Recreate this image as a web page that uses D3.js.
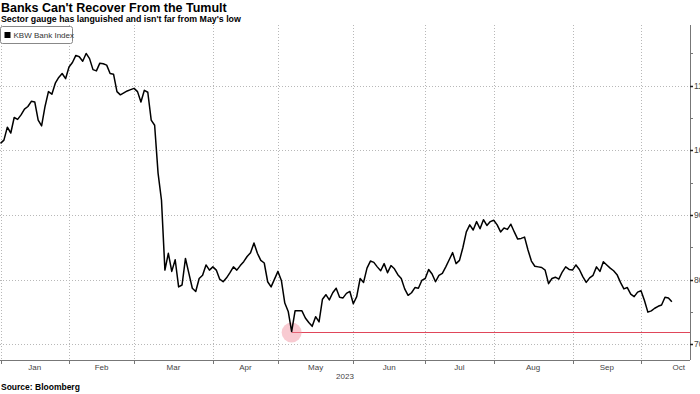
<!DOCTYPE html>
<html lang="en">
<head>
  <meta charset="UTF-8">
  <title>Banks Can't Recover From the Tumult</title>
  <script src="https://d3js.org/d3.v7.min.js"></script>
  <style>
    body { margin: 0; background: #fff; }
    text { font-family: "Liberation Sans", Arial, sans-serif; }
  </style>
</head>
<body>
  <script>
    // KBW Bank Index, daily closes in 2023 (one value per trading day from Jan 3)
    var kbwValues = [
      101.1, 101.6, 103.6, 102.7, 105.1, 104.8, 105.5, 106.4, 106.8, 107.6,
      107.5, 104.7, 103.8, 106.8, 109.1, 108.7, 110.4, 111.3, 111.9, 111.1,
      112.9, 113.6, 114.7, 114.5, 113.8, 115.0, 114.2, 112.5, 112.3, 113.5,
      113.4, 113.2, 111.9, 111.8, 109.1, 108.6, 108.9, 109.2, 109.4, 109.6,
      109.1, 107.5, 109.3, 109.0, 104.7, 103.9, 96.5, 92.3, 81.5, 84.1,
      81.3, 83.1, 78.9, 79.2, 83.3, 81.0, 78.7, 78.2, 80.2, 80.7,
      82.3, 81.5, 82.0, 81.5, 80.1, 79.7, 80.3, 81.1, 82.0, 81.5,
      82.2, 82.8, 83.6, 84.2, 85.7, 84.1, 83.0, 82.6, 79.7, 78.9,
      80.1, 81.3, 79.9, 76.4, 75.1, 72.0, 75.2, 75.2, 75.2, 74.1,
      73.4, 72.8, 74.3, 73.5, 77.0, 77.7, 76.9, 78.0, 78.7, 77.3,
      77.2, 77.9, 78.2, 76.3, 77.4, 80.2, 79.6, 81.8, 82.9, 82.7,
      82.0, 81.4, 82.5, 81.1, 82.2, 81.7, 80.8, 80.2, 78.6, 77.6,
      78.0, 78.8, 78.7, 79.9, 80.2, 81.6, 80.9, 79.7, 80.7, 81.0,
      82.0, 83.1, 84.2, 82.5, 83.0, 85.0, 87.4, 88.5, 87.7, 89.0,
      87.9, 89.3, 88.4, 89.0, 89.2, 88.5, 87.4, 88.0, 87.8, 88.6,
      87.4, 86.3, 86.4, 86.6, 84.6, 82.9, 82.1, 82.0, 81.9, 81.5,
      79.4, 80.2, 80.4, 80.1, 81.2, 82.0, 81.6, 81.5, 82.3, 81.6,
      80.5, 79.6, 80.3, 80.7, 82.0, 81.3, 82.8, 82.3, 81.8, 81.4,
      80.8, 79.6, 78.6, 78.8, 77.8, 77.4, 78.1, 78.3, 76.8, 75.0,
      75.2, 75.6, 75.9, 76.1, 77.3, 77.2, 76.6
    ];

    // months on the axis and their number of trading days
    var months = ["Jan", "Feb", "Mar", "Apr", "May", "Jun", "Jul", "Aug", "Sep", "Oct"];
    var tradingDays = [20, 19, 23, 19, 22, 21, 20, 23, 20, 22];

    var yTicks = [70, 80, 90, 100, 110];
    var yMinorTicks = [75, 85, 95, 105, 115];

    var width = 700, height = 394;
    var plotLeft = 0, plotRight = 690, plotTop = 25, plotBottom = 360;

    var svg = d3.select("body")
                .append("svg")
                .attr("width", width)
                .attr("height", height);

    // month start index (trading day number)
    var monthStart = [];
    var acc = 0;
    tradingDays.forEach(function(n) { monthStart.push(acc); acc += n; });

    var x = d3.scaleLinear()
              .domain([0, 201.3])
              .range([plotLeft + 0.5, plotRight]);

    var y = d3.scaleLinear()
              .domain([67.6, 119.4])
              .range([plotBottom, plotTop]);

    // horizontal gridlines
    svg.selectAll(".hgrid")
       .data(yTicks)
       .enter()
       .append("line")
       .attr("x1", plotLeft)
       .attr("x2", plotRight)
       .attr("y1", d => Math.round(y(d)) + 0.5)
       .attr("y2", d => Math.round(y(d)) + 0.5)
       .style("stroke", "#b8b8b8")
       .style("stroke-dasharray", "1 2");

    // vertical gridlines at month starts
    svg.selectAll(".vgrid")
       .data(monthStart)
       .enter()
       .append("line")
       .attr("x1", d => Math.round(x(d)) + 0.5)
       .attr("x2", d => Math.round(x(d)) + 0.5)
       .attr("y1", plotTop)
       .attr("y2", plotBottom)
       .style("stroke", "#b8b8b8")
       .style("stroke-dasharray", "1 2");

    // x axis line, ticks, labels
    svg.append("line")
       .attr("x1", plotLeft)
       .attr("x2", plotRight)
       .attr("y1", plotBottom + 0.5)
       .attr("y2", plotBottom + 0.5)
       .style("stroke", "#777");

    svg.selectAll(".xtick")
       .data(monthStart)
       .enter()
       .append("line")
       .attr("x1", d => Math.round(x(d)) + 0.5)
       .attr("x2", d => Math.round(x(d)) + 0.5)
       .attr("y1", plotBottom)
       .attr("y2", plotBottom + 4)
       .style("stroke", "#777");

    svg.selectAll(".xlabel")
       .data(months)
       .enter()
       .append("text")
       .attr("x", (d, i) => x(monthStart[i] + tradingDays[i] / 2))
       .attr("y", plotBottom + 10)
       .attr("text-anchor", "middle")
       .style("font-size", "8px")
       .style("fill", "#444")
       .text(d => d);

    svg.append("text")
       .attr("x", (plotLeft + plotRight) / 2)
       .attr("y", plotBottom + 19)
       .attr("text-anchor", "middle")
       .style("font-size", "8px")
       .style("fill", "#444")
       .text("2023");

    // right y axis
    svg.append("line")
       .attr("x1", plotRight + 0.5)
       .attr("x2", plotRight + 0.5)
       .attr("y1", plotTop)
       .attr("y2", plotBottom)
       .style("stroke", "#777");

    svg.selectAll(".ytick")
       .data(yTicks)
       .enter()
       .append("line")
       .attr("x1", plotRight)
       .attr("x2", plotRight + 3)
       .attr("y1", d => Math.round(y(d)) + 0.5)
       .attr("y2", d => Math.round(y(d)) + 0.5)
       .style("stroke", "#222")
       .style("stroke-width", 1.5);

    svg.selectAll(".yminor")
       .data(yMinorTicks)
       .enter()
       .append("line")
       .attr("x1", plotRight)
       .attr("x2", plotRight + 3)
       .attr("y1", d => Math.round(y(d)) + 0.5)
       .attr("y2", d => Math.round(y(d)) + 0.5)
       .style("stroke", "#777");

    // labels run past the right edge, as in the original export
    svg.selectAll(".ylabel")
       .data(yTicks)
       .enter()
       .append("text")
       .attr("x", plotRight + 4)
       .attr("y", d => y(d) + 3)
       .style("font-size", "8.5px")
       .style("fill", "#444")
       .text(d => d);

    // May low marker
    var minVal = d3.min(kbwValues);
    var minIdx = kbwValues.indexOf(minVal);
    var minY = Math.round(y(minVal)) + 0.5;

    svg.append("line")
       .attr("x1", x(minIdx))
       .attr("x2", plotRight)
       .attr("y1", minY)
       .attr("y2", minY)
       .style("stroke", "#e0465a")
       .style("stroke-width", 1)
       .style("shape-rendering", "crispEdges");

    svg.append("circle")
       .attr("cx", x(minIdx))
       .attr("cy", minY)
       .attr("r", 10)
       .style("fill", "#f0899a")
       .style("opacity", 0.45);

    // index line
    var line = d3.line()
                 .x((d, i) => x(i))
                 .y(d => y(d));

    svg.append("path")
       .datum(kbwValues)
       .attr("d", line)
       .style("fill", "none")
       .style("stroke", "#000")
       .style("stroke-width", 1.5)
       .style("stroke-linejoin", "round");

    // legend
    var legend = svg.append("g").attr("transform", "translate(0.5,26.5)");
    legend.append("rect")
          .attr("width", 72)
          .attr("height", 17)
          .attr("rx", 2)
          .style("fill", "#fff")
          .style("stroke", "#888");
    legend.append("rect")
          .attr("x", 4)
          .attr("y", 5.5)
          .attr("width", 6)
          .attr("height", 6)
          .style("fill", "#000");
    legend.append("text")
          .attr("x", 13)
          .attr("y", 11.5)
          .style("font-size", "8px")
          .style("fill", "#333")
          .text("KBW Bank Index");

    // titles and source
    svg.append("text")
       .attr("x", 1)
       .attr("y", 12)
       .style("font-size", "12.5px")
       .style("font-weight", "bold")
       .style("fill", "#000")
       .text("Banks Can't Recover From the Tumult");

    svg.append("text")
       .attr("x", 1)
       .attr("y", 22)
       .style("font-size", "8.8px")
       .style("font-weight", "bold")
       .style("fill", "#000")
       .text("Sector gauge has languished and isn't far from May's low");

    svg.append("text")
       .attr("x", 1)
       .attr("y", 390)
       .style("font-size", "8.5px")
       .style("font-weight", "bold")
       .style("fill", "#000")
       .text("Source: Bloomberg");
  </script>
</body>
</html>
